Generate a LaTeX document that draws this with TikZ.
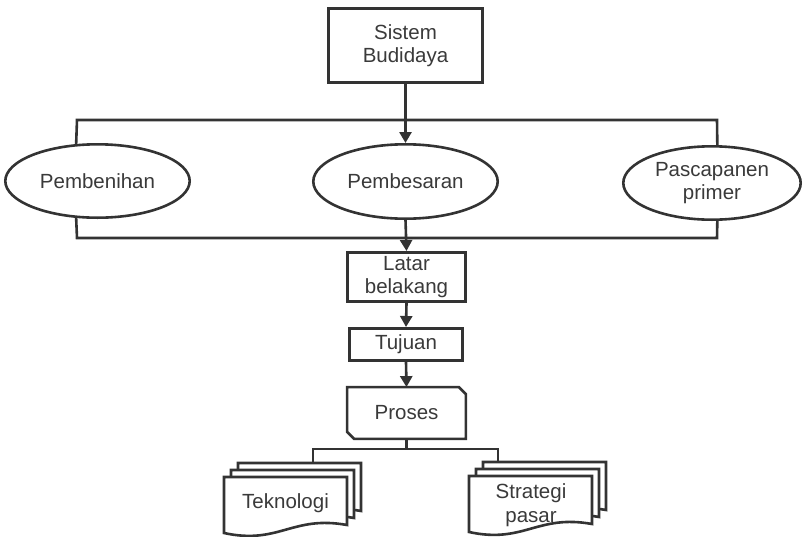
\documentclass[tikz,border=0pt]{standalone}
\usepackage{fontspec}
\setmainfont{Liberation Sans}
\usetikzlibrary{arrows.meta,shapes.geometric}
\definecolor{linec}{HTML}{333333}
\definecolor{textc}{HTML}{3A3A3A}
\newcommand{\docpage}[2]{\draw[line, fill=white] (#1,#2) -- (#1+123,#2) -- (#1+123,#2+48) .. controls (#1+68,#2+38) and (#1+55,#2+68) .. (#1,#2+56) -- cycle;}
\begin{document}
\begin{tikzpicture}[x=1pt,y=-1pt,
  line/.style={draw=linec, line width=2.6pt},
  lbl/.style={text=textc, inner sep=0pt, align=center, font=\fontsize{20.5pt}{23.5pt}\selectfont},
  box/.style={line, rectangle, fill=white, lbl},
  oval/.style={line, ellipse, fill=white, lbl},
  arr/.style={line, -{Triangle[width=12pt,length=11pt]}},
  conn/.style={line}]
\useasboundingbox[fill=white] (0,0) rectangle (803,536);

% nodes
\node[box, minimum width=154.4pt, minimum height=74.4pt] (sistem) at (405.5,45.5) {Sistem\\Budidaya};
\node[oval, minimum width=184.4pt, minimum height=73.4pt] (pembenihan) at (97.5,181) {Pembenihan};
\node[oval, minimum width=184.4pt, minimum height=74.4pt] (pembesaran) at (405.5,181.5) {Pembesaran};
\node[oval, minimum width=177.4pt, minimum height=73.4pt] (pascapanen) at (712,183) {Pascapanen\\primer};
\node[box, minimum width=118.4pt, minimum height=49.4pt] (latar) at (406.5,277) {Latar\\belakang};
\node[box, minimum width=113.4pt, minimum height=32.4pt] (tujuan) at (406,344.5) {Tujuan};
\node[lbl, minimum width=118.4pt, minimum height=51.4pt] (proses) at (406.5,413) {Proses};
\draw[line] (proses.north west) -- ([xshift=-7pt]proses.north east) -- ([yshift=-7pt]proses.north east)
  -- (proses.south east) -- ([xshift=7pt]proses.south west) -- ([yshift=7pt]proses.south west) -- cycle;

% document stacks
\docpage{238}{463}
\docpage{231}{470}
\docpage{224}{477}
\node[lbl] (tekno) at (285.5,503) {Teknologi};
\docpage{483}{462}
\docpage{476}{469}
\docpage{469}{476}
\node[lbl] (strategi) at (531,505) {Strategi\\pasar};

% frame coordinates
\coordinate (tl) at (77,120);
\coordinate (tr) at (717,120);
\coordinate (bl) at (77,238);
\coordinate (br) at (717,238);
\coordinate (bus) at (406.5,449);
\coordinate (tekback) at (313,463);
\coordinate (strback) at (498,462);

% connectors
\draw[arr] (sistem.south) -- (pembesaran.north);
\draw[conn] (pembenihan.120) -- (tl) -- (tr) -- (pascapanen.82);
\draw[conn] (pembenihan.240) -- (bl) -- (br) -- (pascapanen.278);
\draw[arr] (pembesaran.south) -- (latar.north);
\draw[arr] (latar.south) -- (tujuan.north);
\draw[arr] (tujuan.south) -- (proses.north);
\draw[conn] (proses.south) -- (bus);
\draw[conn] (tekback) |- (bus) -| (strback);
\end{tikzpicture}
\end{document}
